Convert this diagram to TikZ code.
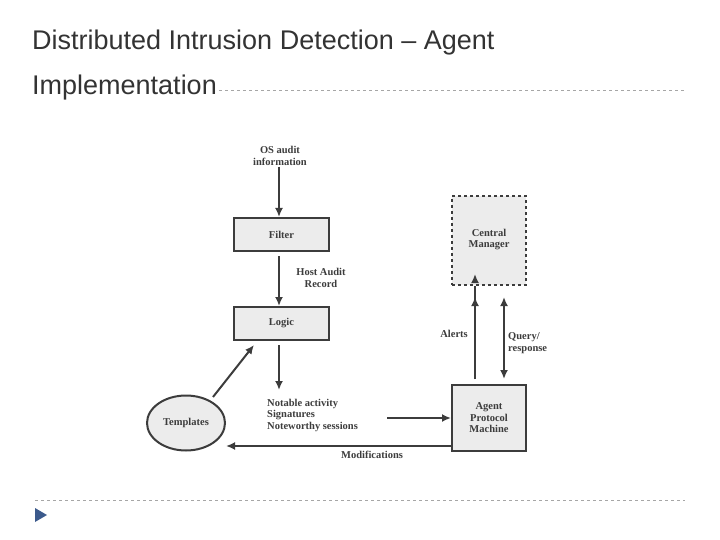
\documentclass[tikz,border=0pt]{standalone}
\usepackage{fontspec}
\setmainfont{Liberation Serif}
\newfontfamily\titlefont{Liberation Sans}
\usetikzlibrary{arrows.meta,shapes.geometric}
\definecolor{boxfill}{RGB}{236,236,236}
\definecolor{ink}{RGB}{60,60,60}
\definecolor{bulletblue}{RGB}{60,90,140}
\begin{document}
\begin{tikzpicture}[x=1pt,y=-1pt,
  box/.style={draw=ink,line width=2pt,fill=boxfill,inner sep=0pt},
  lbl/.style={text=ink,font=\fontsize{10.5}{11.5}\selectfont\bfseries,align=center,inner sep=1pt},
  arr/.style={draw=ink,line width=2pt,-{Latex[length=9pt,width=8pt]}},
  sep/.style={draw=gray!70,dashed,line width=0.6pt}]
\useasboundingbox (0,0) rectangle (720,540);
% title
\node[anchor=base west,font=\titlefont\fontsize{27}{32}\selectfont,text=black!80,inner sep=0pt] (t1) at (32,50) {Distributed Intrusion Detection – Agent};
\node[anchor=base west,font=\titlefont\fontsize{27}{32}\selectfont,text=black!80,inner sep=0pt] (t2) at (32,95) {Implementation};
\coordinate (s1) at (t2.base east);
\draw[sep] (s1) ++(2,-5) -- (685,90);
\coordinate (b1) at (35,500);
\coordinate (b2) at (685,500);
\draw[sep] (b1) -- (b2);
\fill[bulletblue] (35,508) -- (47,515) -- (35,522) -- cycle;
% diagram
\node[lbl] (os) at (280,156) {OS audit\\information};
\node[box,lbl,minimum width=95pt,minimum height=33pt] (filter) at (281.5,234.5) {Filter};
\node[box,lbl,minimum width=95pt,minimum height=33pt] (logic) at (281.5,323.5) {Logic};
\node[lbl] (har) at (321,278) {Host Audit\\Record};
\coordinate (na) at (279,390);
\node[lbl,align=left,anchor=north west,inner sep=0pt] (notes) at (267,399) {Notable activity\\Signatures\\Noteworthy sessions};
\node[draw=ink,line width=2pt,fill=boxfill,ellipse,minimum width=78pt,minimum height=55pt,lbl,inner sep=0pt] (tmpl) at (186,423) {Templates};
\node[box,lbl,minimum width=74pt,minimum height=66pt] (apm) at (489,418) {Agent\\Protocol\\Machine};
\node[box,dashed,lbl,minimum width=74pt,minimum height=89pt] (cm) at (489,240.5) {};
\node[lbl,anchor=north] (cmt) at (489,228) {Central\\Manager};
\node[lbl,anchor=east] (alerts) at (469,334) {Alerts};
\node[lbl,anchor=west,align=left] (qr) at (507,343) {Query/\\response};
\node[lbl] (mods) at (372,455) {Modifications};
\draw[arr] (os.south -| 279,0) -- (filter.north -| 279,0);
\draw[arr] (279,256) -- (logic.north -| 279,0);
\draw[arr] (279,345) -- (na);
\draw[arr] (213,397) -- (254,345);
\draw[arr] (387,418) -- (apm.west);
\draw[arr] (475,379) -- (cm.south -| 475,0) ++(0,-12);
\draw[arr] (475,379) -- (475,297);
\draw[draw=ink,line width=2pt,{Latex[length=9pt,width=8pt]}-{Latex[length=9pt,width=8pt]}] (504,379) -- (504,297);
\draw[arr] (apm.west |- 0,446) -- (tmpl.east |- 0,446);
\end{tikzpicture}
\end{document}
